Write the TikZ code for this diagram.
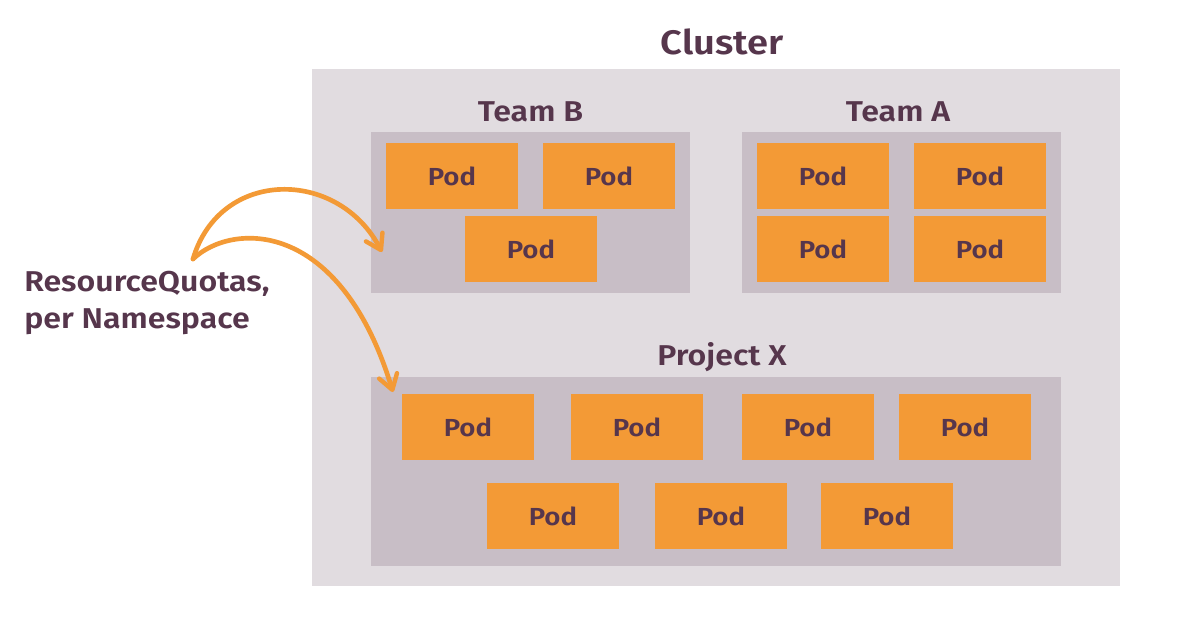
\documentclass[tikz,border=0pt]{standalone}
\usepackage{fontspec}
\setmainfont{Fira Sans SemiBold}[FakeStretch=1.12]
\usetikzlibrary{arrows.meta}
\definecolor{txt}{HTML}{56364C}
\definecolor{pod}{HTML}{F39A36}
\definecolor{clus}{HTML}{E1DCE0}
\definecolor{ns}{HTML}{C8BEC6}
\tikzset{
  podbox/.style={fill=pod, draw=none, minimum width=132*0.75pt, minimum height=66*0.75pt, inner sep=0pt, text=txt, font=\fontsize{18.5}{22}\selectfont},
  nsbox/.style={fill=ns, draw=none},
  lbl/.style={text=txt, font=\fontsize{21.5}{24}\selectfont, inner sep=0pt},
  quota/.style={draw=pod, line width=3.5pt, line cap=round, -{Straight Barb[length=11pt, width=14pt, line width=3.3pt, round]}}
}
\begin{document}
\begin{tikzpicture}[x=0.75pt, y=-0.75pt]
\useasboundingbox (0,0) rectangle (1200,617);
\fill[white] (0,0) rectangle (1200,617);
% cluster
\fill[clus] (312,69) rectangle (1120,586);
\node[lbl, font=\fontsize{25.5}{28}\selectfont] (cluster) at (722,42) {Cluster};
% namespaces
\fill[ns] (371,132) rectangle (690,293);
\fill[ns] (742,132) rectangle (1061,293);
\fill[ns] (371,377) rectangle (1061,566);
\node[lbl] (teamb) at (530.5,112) {Team B};
\node[lbl] (teama) at (898,112) {Team A};
\node[lbl] (projx) at (722,357) {Project X};
% team B pods
\node[podbox] (b1) at (452,176) {Pod};
\node[podbox] (b2) at (609,176) {Pod};
\node[podbox] (b3) at (531,249) {Pod};
% team A pods
\node[podbox] (a1) at (823,176) {Pod};
\node[podbox] (a2) at (980,176) {Pod};
\node[podbox] (a3) at (823,249) {Pod};
\node[podbox] (a4) at (980,249) {Pod};
% project X pods
\node[podbox] (x1) at (468,427) {Pod};
\node[podbox] (x2) at (637,427) {Pod};
\node[podbox] (x3) at (808,427) {Pod};
\node[podbox] (x4) at (965,427) {Pod};
\node[podbox] (x5) at (553,516) {Pod};
\node[podbox] (x6) at (721,516) {Pod};
\node[podbox] (x7) at (887,516) {Pod};
% label
\node[lbl, anchor=north west, align=left, font=\fontsize{21.5}{27.5}\selectfont] (rq) at (24,271) {ResourceQuotas,\\per Namespace};
\coordinate (start) at (193,259);
\coordinate (tipb) at (382,252);
\coordinate (tipx) at (393,392);
\draw[quota] (start) .. controls (220,168) and (338,168) .. (tipb);
\draw[quota] (start) .. controls (232,222) and (340,218) .. (tipx);
\end{tikzpicture}
\end{document}
